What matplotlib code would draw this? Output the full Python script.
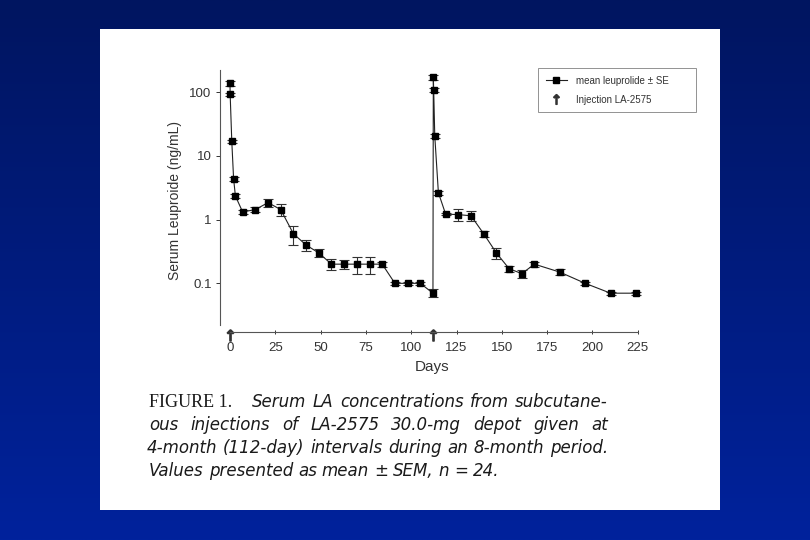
import numpy as np
import matplotlib
matplotlib.use("Agg")
import matplotlib.pyplot as plt
from matplotlib.lines import Line2D
from matplotlib.patches import Rectangle

# data (days, mean leuprolide ng/mL, SE)
days = [0, 0.1, 1, 2, 3, 7, 14, 21, 28, 35, 42, 49, 56, 63, 70, 77, 84, 91, 98, 105,
        112, 112.2, 112.4, 113, 115, 119, 126, 133, 140, 147, 154, 161, 168, 182, 196, 210, 224]
mean_la = [138, 94, 17, 4.4, 2.35, 1.32, 1.44, 1.85, 1.44, 0.60, 0.40, 0.30, 0.20, 0.20, 0.20, 0.20, 0.20, 0.10, 0.10, 0.10,
           0.07, 172, 109, 20.6, 2.65, 1.22, 1.20, 1.15, 0.60, 0.30, 0.17, 0.142, 0.20, 0.15, 0.10, 0.07, 0.07]
se_la = [12, 5, 1, 0.3, 0.15, 0.08, 0.12, 0.25, 0.3, 0.2, 0.08, 0.04, 0.04, 0.03, 0.06, 0.06, 0.02, 0.005, 0.005, 0.005,
         0.01, 15, 8, 1.5, 0.2, 0.05, 0.25, 0.2, 0.07, 0.06, 0.02, 0.02, 0.02, 0.015, 0.005, 0.004, 0.004]
injection_days = [0, 112]
x_ticks = [0, 25, 50, 75, 100, 125, 150, 175, 200, 225]
y_ticks = [0.1, 1, 10, 100]
y_tick_labels = ["0.1", "1", "10", "100"]

caption_head = "FIGURE 1."
caption_lines = [
    "Serum LA concentrations from subcutane-",
    "ous injections of LA-2575 30.0-mg depot given at",
    "4-month (112-day) intervals during an 8-month period.",
    "Values presented as mean \u00b1 SEM, n = 24.",
]

W, H = 810, 540
fig = plt.figure(figsize=(W / 100, H / 100), dpi=100)

# blue gradient background
bg = fig.add_axes([0, 0, 1, 1])
grad = np.linspace(0, 1, 256)[:, None]
c_top = np.array([0, 21, 96]) / 255
c_bot = np.array([0, 34, 156]) / 255
img = c_top[None, None, :] * (1 - grad[..., None]) + c_bot[None, None, :] * grad[..., None]
bg.imshow(np.repeat(img, 2, axis=1), aspect="auto", extent=[0, 1, 0, 1])
bg.set_axis_off()
bg.add_patch(Rectangle((100 / W, 1 - 510 / H), 620 / W, 481 / H, facecolor="white", edgecolor="none"))


def fx(px):
    return px / W


def fy(py):
    return 1 - py / H


# main chart axes (pixel layout 220..645 x, 70..332 y)
ax = fig.add_axes([fx(220), fy(332), 425 / W, 262 / H])
ax.patch.set_alpha(0)
ax.set_yscale("log")
ax.set_xlim(-5.5, 229)
ax.set_ylim(0.0172, 224)

ax.errorbar(days, mean_la, yerr=se_la, color="#222222", lw=0.8, marker="s", ms=5,
            mfc="black", mec="black", ecolor="#333333", elinewidth=0.8, capsize=3.5, capthick=0.8)

ax.plot(injection_days, [-0.013] * len(injection_days), transform=ax.get_xaxis_transform(),
        ls="none", marker=r"$\uparrow$", ms=8, color="#333333", clip_on=False)

for s in ["top", "right"]:
    ax.spines[s].set_visible(False)
ax.spines["left"].set_bounds(0.022, 224)
ax.spines["bottom"].set_bounds(0, 225)
for s in ["left", "bottom"]:
    ax.spines[s].set_color("#555555")
    ax.spines[s].set_linewidth(0.8)

ax.set_yticks(y_ticks)
ax.set_yticklabels(y_tick_labels)
ax.yaxis.set_minor_locator(matplotlib.ticker.NullLocator())
ax.set_xticks(x_ticks)
ax.tick_params(axis="both", labelsize=9.5, colors="#333333", width=0.7)
ax.tick_params(axis="y", length=3, direction="out", pad=3)
ax.tick_params(axis="x", length=3, direction="inout", pad=6)
for lab in ax.get_xticklabels() + ax.get_yticklabels():
    lab.set_fontfamily("Liberation Sans")

ax.set_ylabel("Serum Leuproide (ng/mL)", fontsize=10, family="Liberation Sans", color="#333333", labelpad=5)
ax.set_xlabel("Days", fontsize=11, family="Liberation Sans", color="#333333", labelpad=4)

handles = [
    Line2D([], [], color="#222222", lw=0.8, marker="s", ms=4.5, mfc="black", mec="black"),
    Line2D([], [], ls="none", marker=r"$\uparrow$", ms=7, color="#333333"),
]
leg = ax.legend(handles, ["mean leuprolide \u00b1 SE", "Injection LA-2575"],
                loc="upper left", bbox_to_anchor=(fx(538), fy(117), 158 / W, 49 / H),
                bbox_transform=fig.transFigure, mode="expand", frameon=True, fancybox=False,
                edgecolor="#777777", prop={"family": "Liberation Sans", "size": 7},
                handlelength=2.2, borderpad=0.8, labelspacing=0.9, handletextpad=0.9, borderaxespad=0)
leg.get_frame().set_linewidth(0.7)
for t in leg.get_texts():
    t.set_color("#333333")


# caption, justified like the printed page
renderer = fig.canvas.get_renderer()


def put_line(words, x0, x1, y, justify, **kw):
    objs = [fig.text(fx(x0), fy(y), w, va="baseline", ha="left", **kw) for w in words]
    widths = [o.get_window_extent(renderer).width for o in objs]
    space = objs[0].get_fontsize() * 0.42
    if justify and len(objs) > 1:
        gap = (x1 - x0 - sum(widths)) / (len(objs) - 1)
    else:
        gap = space
    x = x0
    for o, w in zip(objs, widths):
        o.set_x(fx(x))
        x += w + gap


cap_kw = dict(family="DejaVu Sans", style="italic", fontsize=12, color="#1a1a1a")
fig.text(fx(149), fy(407), caption_head, va="baseline", ha="left",
         family="Liberation Serif", fontsize=13, color="#1a1a1a")
put_line(caption_lines[0].split(), 252, 608, 407, True, **cap_kw)
put_line(caption_lines[1].split(), 149, 608, 430, True, **cap_kw)
put_line(caption_lines[2].split(), 147, 608, 453, True, **cap_kw)
put_line(caption_lines[3].split(), 149, 608, 476, False, **cap_kw)

fig.savefig("out.png", dpi=100)
